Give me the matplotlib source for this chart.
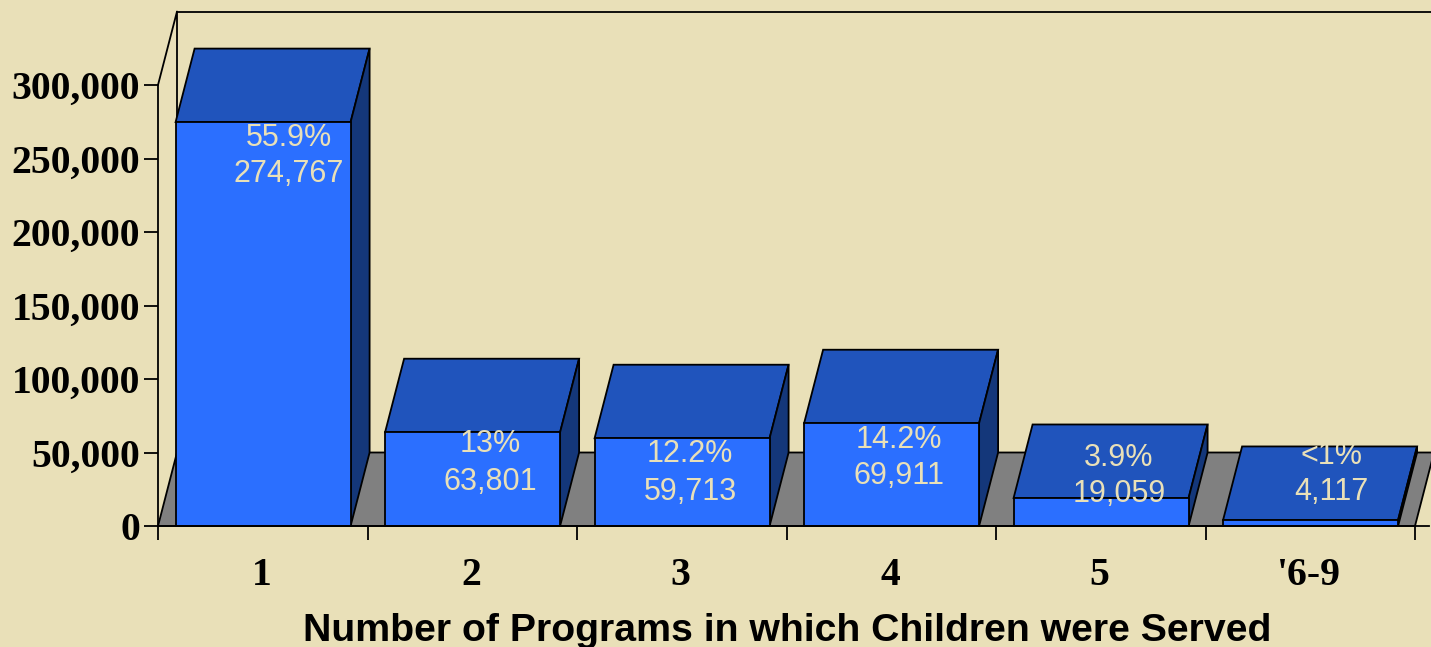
import matplotlib
matplotlib.use('Agg')
import matplotlib.pyplot as plt
from matplotlib.patches import Polygon

categories = ['1', '2', '3', '4', '5', "'6-9"]
children = [274767, 63801, 59713, 69911, 19059, 4117]
percents = ['55.9%', '13%', '12.2%', '14.2%', '3.9%', '<1%']
yticks = [0, 50000, 100000, 150000, 200000, 250000, 300000]

bg = '#E9E0B8'
front = '#2B6FFF'
top = '#2054BC'
side = '#14377A'
floor = '#808080'
txt = '#E9E0B8'

# layout, in pixels of the 1431x647 image
W, H = 1431, 647
x0, x1, y0, y1 = 158, 1429, 526, 85
cat_w = 209.5
px_per_val = 441 / 300000.

# 3d look of the chart
dep_x = 19 / cat_w
dep_y = 50000
gap = 17.6 / cat_w
bar_w = 175 / cat_w

# where the two lines of every label sit (label centre x, pct y, value y)
label_x = [289, 490, 690, 899, 1119, 1331]
pct_y = [135, 441, 451, 436, 454, 452]
val_y = [171, 478, 489, 472, 491, 489]


def data_x(px):
    return (px - x0) / cat_w


def data_y(py):
    return (y0 - py) / px_per_val


fig = plt.figure(figsize=(W / 100., H / 100.), dpi=100, facecolor=bg)
ax = fig.add_axes([x0 / W, (H - y0) / H, (x1 - x0) / W, (y0 - y1) / H])
ax.set_facecolor('none')
ax.set_xlim(0, (x1 - x0) / cat_w)
ax.set_ylim(0, 300000)
for s in ['top', 'right']:
    ax.spines[s].set_visible(False)
lw = 1.3
for s in ['left', 'bottom']:
    ax.spines[s].set_linewidth(lw)
    ax.spines[s].set_zorder(5)

n = len(categories)
# floor and back wall
ax.add_patch(Polygon([(0, 0), (n, 0), (n + dep_x, dep_y), (dep_x, dep_y)],
                     facecolor=floor, edgecolor='k', lw=lw, clip_on=False, zorder=1))
ax.plot([0, dep_x, dep_x], [300000, 300000 + dep_y, dep_y], 'k', lw=lw, clip_on=False, zorder=1)
ax.plot([dep_x, n + dep_x], [300000 + dep_y] * 2, 'k', lw=lw, clip_on=False, zorder=1)

for i, v in enumerate(children):
    l = i + gap
    r = l + bar_w
    ax.add_patch(Polygon([(l, v), (r, v), (r + dep_x, v + dep_y), (l + dep_x, v + dep_y)],
                         facecolor=top, edgecolor='k', lw=lw, clip_on=False, zorder=2))
    ax.add_patch(Polygon([(r, 0), (r + dep_x, dep_y), (r + dep_x, v + dep_y), (r, v)],
                         facecolor=side, edgecolor='k', lw=lw, clip_on=False, zorder=2))
    ax.add_patch(Polygon([(l, 0), (r, 0), (r, v), (l, v)],
                         facecolor=front, edgecolor='k', lw=lw, clip_on=False, zorder=3))
    ax.text(data_x(label_x[i]), data_y(pct_y[i]), percents[i], color=txt, fontsize=22,
            family='Liberation Sans', ha='center', va='center_baseline', zorder=6)
    ax.text(data_x(label_x[i]), data_y(val_y[i]), format(v, ','), color=txt, fontsize=22,
            family='Liberation Sans', ha='center', va='center_baseline', zorder=6)

ax.set_yticks(yticks)
ax.set_yticklabels([format(t, ',') for t in yticks], family='Liberation Serif',
                   fontweight='bold', fontsize=28.5)
ax.tick_params(axis='y', length=10, width=lw, pad=3)
ax.set_xticks(range(n + 1))
ax.set_xticklabels([])
ax.tick_params(axis='x', length=10, width=lw)
ax.set_xticks([i + 0.495 for i in range(n)], minor=True)
ax.set_xticklabels(categories, minor=True, family='Liberation Serif',
                   fontweight='bold', fontsize=28.5)
ax.tick_params(axis='x', which='minor', length=0, pad=22.5)

fig.text(787 / W, 1 - 641 / H, 'Number of Programs in which Children were Served',
         family='Liberation Sans', fontweight='bold', fontsize=28.3,
         ha='center', va='baseline', color='k')

fig.savefig('out.png', dpi=100, facecolor=bg)
